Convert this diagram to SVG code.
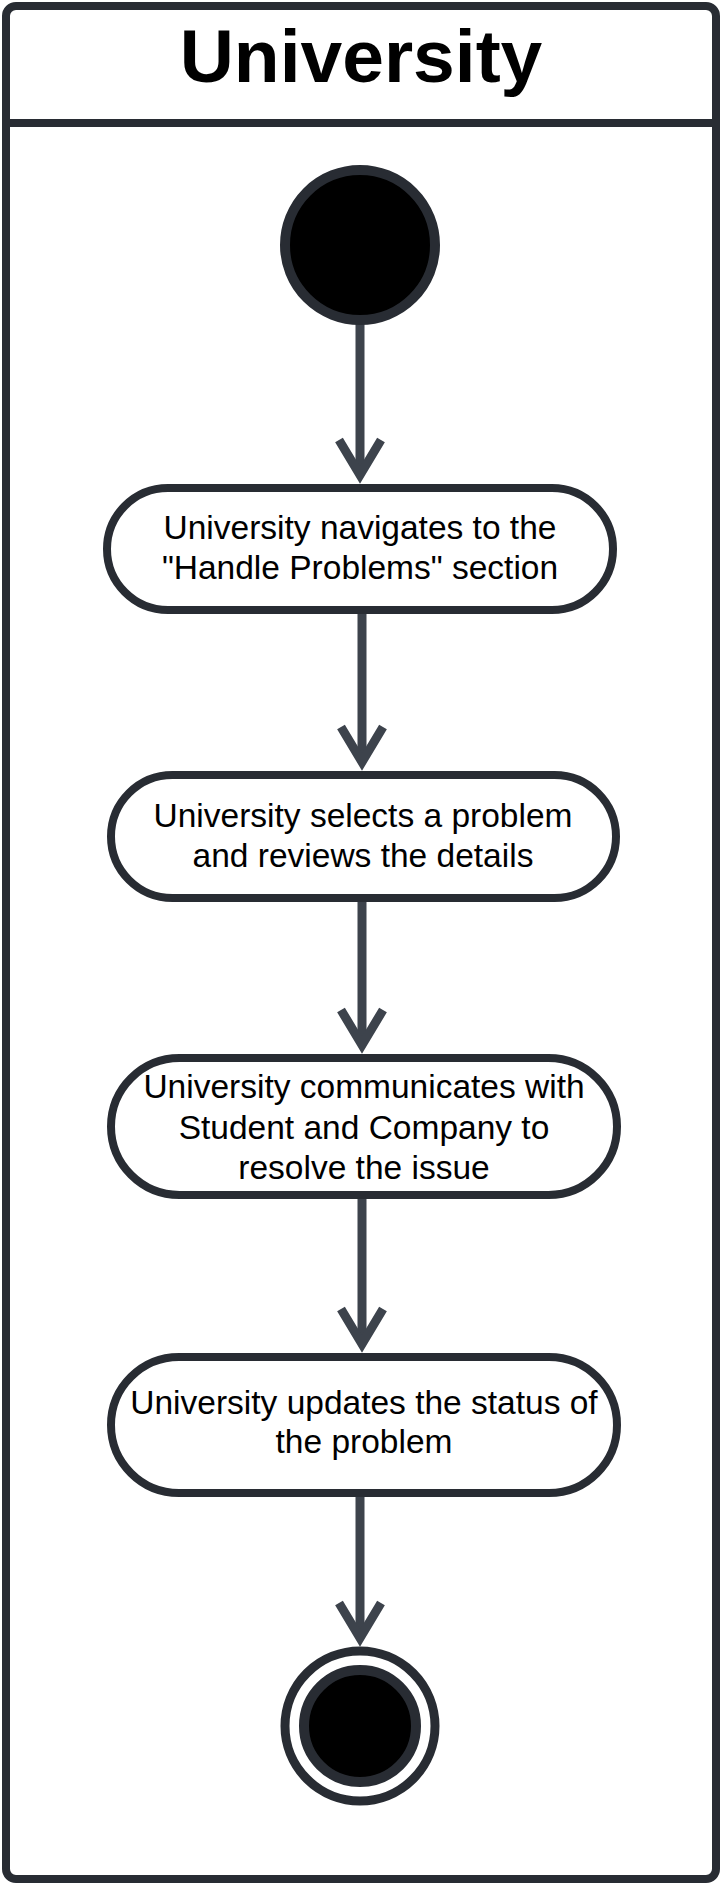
<svg xmlns="http://www.w3.org/2000/svg" width="722" height="1884" viewBox="0 0 722 1884">
<defs>
<style>
.frame{fill:#ffffff;stroke:#282c33;stroke-width:8}
.act{fill:#ffffff;stroke:#282c33;stroke-width:8}
.dot{fill:#000000;stroke:#282c33;stroke-width:10}
.ring{fill:#ffffff;stroke:#282c33;stroke-width:9}
.edge{fill:none;stroke:#3d434c;stroke-width:9}
.head{fill:none;stroke:#3d434c;stroke-width:9;stroke-linejoin:miter;stroke-miterlimit:10}
.lbl{font-family:"Liberation Sans",Arial,sans-serif;font-size:33.5px;fill:#000000;text-anchor:middle}
.title{font-family:"Liberation Sans",Arial,sans-serif;font-size:75px;font-weight:bold;fill:#000000;text-anchor:middle}
</style>
</defs>
<rect width="722" height="1884" fill="#ffffff"/>
<g id="swimlane">
<rect class="frame" x="6" y="6" width="710" height="1873" rx="10"/>
<line x1="6" y1="123" x2="716" y2="123" stroke="#282c33" stroke-width="8"/>
<text class="title" x="361" y="82">University</text>
</g>
<g id="connectors">
<line class="edge" x1="360" y1="322" x2="360" y2="472"/>
<polyline class="head" points="339,440 360,475 381,440"/>
<line class="edge" x1="362" y1="614" x2="362" y2="759"/>
<polyline class="head" points="341,727 362,762 383,727"/>
<line class="edge" x1="362" y1="902" x2="362" y2="1042"/>
<polyline class="head" points="341,1010 362,1045 383,1010"/>
<line class="edge" x1="362" y1="1199" x2="362" y2="1341"/>
<polyline class="head" points="341,1309 362,1344 383,1309"/>
<line class="edge" x1="360" y1="1497" x2="360" y2="1635"/>
<polyline class="head" points="339,1603 360,1638 381,1603"/>
</g>
<g id="start">
<circle class="dot" cx="360" cy="245" r="75"/>
</g>
<g id="a1">
<rect class="act" x="107" y="488" width="506" height="122" rx="61"/>
<text class="lbl" x="360" y="539">University navigates to the</text>
<text class="lbl" x="360" y="579">"Handle Problems" section</text>
</g>
<g id="a2">
<rect class="act" x="111" y="775" width="505" height="123" rx="61.5"/>
<text class="lbl" x="363" y="827">University selects a problem</text>
<text class="lbl" x="363" y="867">and reviews the details</text>
</g>
<g id="a3">
<rect class="act" x="111" y="1058" width="506" height="137" rx="68.5"/>
<text class="lbl" x="364" y="1098">University communicates with</text>
<text class="lbl" x="364" y="1138.5">Student and Company to</text>
<text class="lbl" x="364" y="1178.5">resolve the issue</text>
</g>
<g id="a4">
<rect class="act" x="111" y="1357" width="506" height="136" rx="68"/>
<text class="lbl" x="364" y="1414">University updates the status of</text>
<text class="lbl" x="364" y="1453">the problem</text>
</g>
<g id="end">
<circle class="ring" cx="360" cy="1726" r="75"/>
<circle class="dot" cx="360" cy="1726" r="56"/>
</g>
</svg>
